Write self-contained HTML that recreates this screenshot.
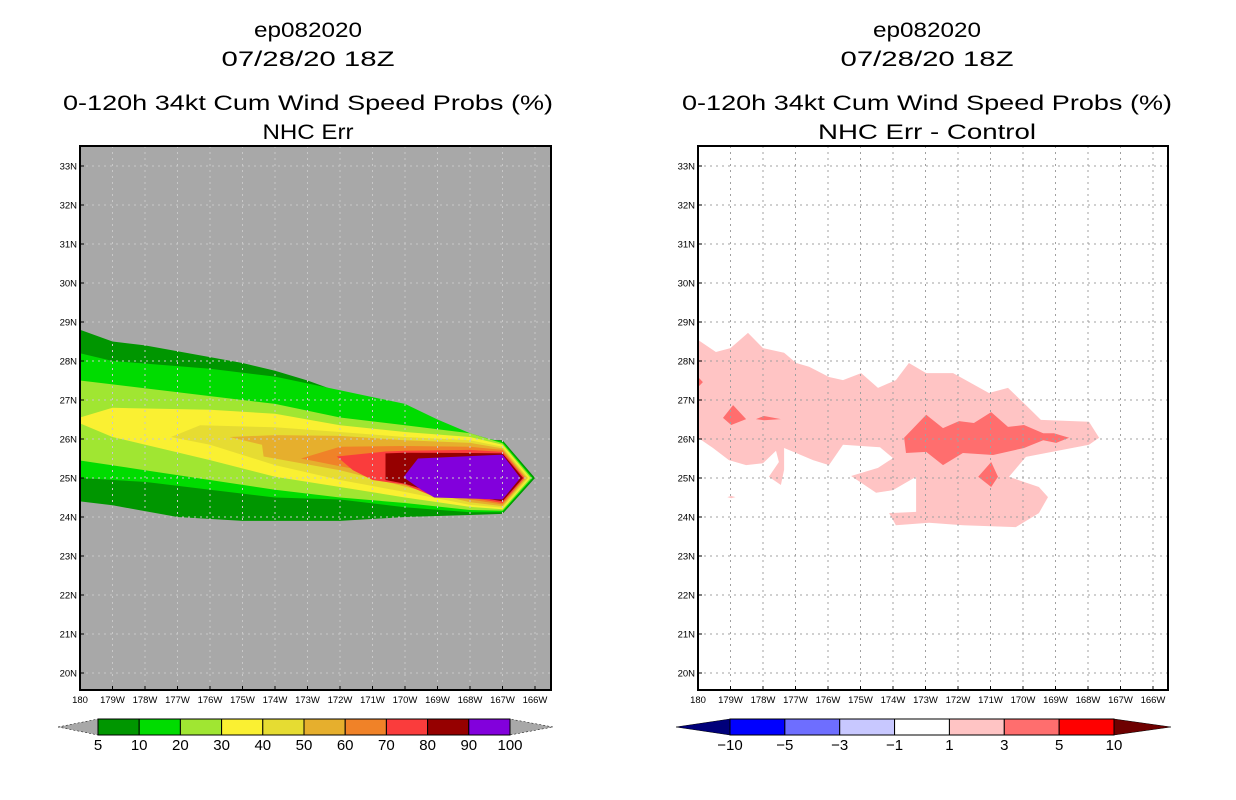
<!DOCTYPE html>
<html><head><meta charset="utf-8"><style>
body{margin:0;background:#fff}
svg{display:block;font-family:"Liberation Sans",sans-serif}
.t{font-size:21px;text-anchor:middle;fill:#000}
.tk{font-size:9.5px;fill:#000}
.cb{font-size:15px;text-anchor:middle;fill:#000}
</style></head><body>
<svg id="s" width="1236" height="800" viewBox="0 0 1236 800">
<defs>
<clipPath id="cl"><rect x="80" y="146" width="471" height="544"/></clipPath>
<clipPath id="cr"><rect x="698" y="146" width="470" height="544"/></clipPath>
</defs>
<g>
<text class="t" x="308" y="37" textLength="108" lengthAdjust="spacingAndGlyphs">ep082020</text>
<text class="t" x="308" y="66" textLength="173" lengthAdjust="spacingAndGlyphs">07/28/20 18Z</text>
<text class="t" x="308" y="110" textLength="490" lengthAdjust="spacingAndGlyphs">0-120h 34kt Cum Wind Speed Probs (%)</text>
<text class="t" x="308" y="139" textLength="91" lengthAdjust="spacingAndGlyphs">NHC Err</text>
</g>
<g>
<text class="t" x="927" y="37" textLength="108" lengthAdjust="spacingAndGlyphs">ep082020</text>
<text class="t" x="927" y="66" textLength="173" lengthAdjust="spacingAndGlyphs">07/28/20 18Z</text>
<text class="t" x="927" y="110" textLength="490" lengthAdjust="spacingAndGlyphs">0-120h 34kt Cum Wind Speed Probs (%)</text>
<text class="t" x="927" y="139" textLength="218" lengthAdjust="spacingAndGlyphs">NHC Err - Control</text>
</g>
<g id="L"></g><g id="R"></g>
</svg>
<script>
const latTicks=[20,21,22,23,24,25,26,27,28,29,30,31,32,33];
const lonTicks=[180,179,178,177,176,175,174,173,172,171,170,169,168,167,166];
const probLevels=[5,10,20,30,40,50,60,70,80,90,100];
const probColors=["#009600","#00dc00","#a0e632","#faf032","#e6dc32","#e6af2d","#f08228","#fa3c3c","#960000","#8200dc"];
const diffLevels=[-10,-5,-3,-1,1,3,5,10];
const diffColors=["#00007a","#0000ff","#6e6eff","#c8c8ff","#ffffff","#ffc4c4","#ff6e6e","#ff0000","#6e0000"];
const p5=[[180,28.8],[179,28.5],[178,28.4],[176,28.1],[175,27.95],[174,27.75],[173,27.5],[172,27.2],[171,26.95],[170,26.5],[169.4,26.35],[168.4,26.0],[167,25.97],[166.0,25.0],[167,24.08],[168,24.05],[170,24.0],[172,23.9],[173,23.9],[175,23.9],[177,24.0],[179,24.3],[180,24.4]];
const p10=[[180,28.2],[179,28.0],[176,27.8],[174,27.6],[172,27.25],[170,26.9],[169,26.5],[168,26.15],[167.4,26.0],[167,25.93],[166.06,25.0],[167,24.12],[168,24.12],[170,24.25],[172,24.45],[174,24.5],[176,24.7],[178,24.9],[180,25.0]];
const p20=[[180,27.5],[179,27.4],[176,27.1],[174,26.9],[172,26.55],[170,26.35],[168,26.15],[167,25.89],[166.1,25],[167,24.16],[168,24.18],[170,24.36],[172,24.5],[174,24.7],[176,24.95],[178,25.2],[180,25.45]];
const p30=[[180,26.55],[179,26.8],[176,26.75],[174,26.65],[172,26.35],[170,26.18],[168,26.05],[167,25.85],[166.15,25],[167,24.2],[168,24.26],[170,24.5],[172,24.77],[174,25.03],[176,25.46],[179,26.05],[180,26.4]];
const p40=[[177.2,26.05],[176.3,26.35],[174,26.3],[172,26.18],[170,26.05],[168,25.97],[167,25.8],[166.2,25],[167,24.24],[168,24.31],[170,24.64],[172,24.95],[174,25.33],[176,25.85]];
const p50=[[175.4,26.05],[174,26.1],[172,26.08],[170,25.97],[168,25.9],[167,25.76],[166.25,25],[167,24.28],[168,24.38],[170,24.78],[172,25.2],[174.35,25.55],[174.4,25.85]];
const p60=[[173.2,25.5],[172,25.8],[170,25.82],[168,25.8],[167,25.72],[166.3,25],[167,24.32],[168,24.45],[170,24.9],[171,25.15],[172,25.3]];
const p70=[[172.1,25.55],[170.6,25.68],[170,25.7],[168,25.72],[167,25.67],[166.33,25],[167,24.36],[168,24.5],[169.2,24.55],[170,24.83],[171,24.95],[171.6,25.2]];
const p80=[[170.6,25.63],[170,25.65],[168,25.64],[167,25.63],[166.37,25],[167,24.4],[168,24.55],[169,24.57],[169.5,24.72],[170,24.85],[170.6,24.95]];
const p90=[[170.05,25.02],[169.6,25.5],[167,25.6],[166.45,25],[167,24.45],[169.1,24.5],[169.5,24.7]];
const probPolys=[p5,p10,p20,p30,p40,p50,p60,p70,p80,p90];
const d1=[[180,28.54],[179.45,28.23],[179.0,28.33],[178.46,28.72],[178.0,28.33],[177.35,28.21],[176.98,27.95],[176.58,27.85],[175.97,27.59],[175.54,27.51],[174.98,27.69],[174.46,27.31],[173.91,27.51],[173.51,27.95],[172.98,27.69],[172.15,27.69],[171.05,27.18],[170.46,27.31],[169.91,26.87],[169.45,26.49],[167.97,26.44],[167.66,26.03],[167.97,25.85],[169.91,25.54],[170.43,25.03],[169.51,24.77],[169.23,24.51],[169.51,24.1],[170.22,23.74],[171.85,23.79],[172.89,23.85],[173.91,23.79],[174.12,24.1],[173.29,24.13],[173.29,25.03],[174.0,24.69],[174.52,24.62],[175.29,25.05],[174.46,25.26],[174.0,25.51],[174.4,25.79],[174.98,25.82],[175.54,25.85],[175.97,25.33],[176.46,25.46],[176.98,25.64],[177.35,25.77],[177.35,25.21],[177.45,24.82],[177.82,25.03],[177.51,25.41],[177.6,25.7],[178.0,25.38],[178.52,25.33],[179.05,25.46],[179.54,25.77],[180,26.03]];
const d3a=[[173.66,26.03],[172.98,26.62],[172.46,26.28],[171.97,26.46],[171.51,26.41],[170.98,26.69],[170.46,26.31],[169.97,26.36],[169.38,26.15],[169.05,26.15],[168.58,26.03],[168.98,25.9],[169.38,25.97],[169.97,25.77],[170.92,25.59],[171.85,25.64],[172.46,25.33],[172.98,25.67],[173.6,25.64]];
const d3b=[[179.23,26.54],[178.92,26.87],[178.52,26.51],[178.98,26.36]];
const d3c=[[178.22,26.51],[177.97,26.59],[177.45,26.51],[177.97,26.48]];
const d3d=[[170.98,25.41],[170.77,25.03],[170.98,24.77],[171.38,25.03]];
const d3e=[[180,27.59],[179.85,27.46],[180,27.33]];
const d1b=[[179.1,24.51],[178.98,24.54],[178.85,24.51],[178.98,24.48]];
const diffPolys1=[d1,d1b];
const diffPolys3=[d3a,d3b,d3c,d3d,d3e];

const NS="http://www.w3.org/2000/svg";
function mk(tag,attrs,parent){const e=document.createElementNS(NS,tag);for(const k in attrs)e.setAttribute(k,attrs[k]);parent.appendChild(e);return e;}
function panel(g,x0,w,bg,clip){
  const y0=146,h=544;
  const X=lon=>x0+(180-lon)*32.5;
  const Y=lat=>673-(lat-20)*39;
  const bgR=mk('rect',{x:x0,y:y0,width:w,height:h,fill:bg},g);
  
  
  const cg=mk('g',{'clip-path':'url(#'+clip+')'},g);
  return {X,Y,cg,y0,h};
}
function poly(p,pts,fill,name){
  const e=mk('polygon',{points:pts.map(q=>p.X(q[0]).toFixed(1)+','+p.Y(q[1]).toFixed(1)).join(' '),fill:fill},p.cg);
  
  
}
function axes(g,p,x0,w,gridCol){
  lonTicks.forEach(l=>{const x=p.X(l);
    if(x>x0+1&&x<x0+w-1){const ln=mk('line',{x1:x,x2:x,y1:p.y0,y2:p.y0+p.h,stroke:gridCol,'stroke-width':1,'stroke-dasharray':'2,4'},g);}
    const t=mk('text',{x:x,y:p.y0+p.h+13,'text-anchor':'middle',class:'tk'},g);t.textContent=l===180?'180':l+'W';
    
    const tk=mk('line',{x1:x,x2:x,y1:p.y0+p.h,y2:p.y0+p.h-4,stroke:'#000'},g);});
  latTicks.forEach(l=>{const y=p.Y(l);
    const ln=mk('line',{x1:x0,x2:x0+w,y1:y,y2:y,stroke:gridCol,'stroke-width':1,'stroke-dasharray':'2,4'},g);
    const t=mk('text',{x:x0-3,y:y+3.5,'text-anchor':'end',class:'tk'},g);t.textContent=l+'N';
    
    const tk=mk('line',{x1:x0,x2:x0+4,y1:y,y2:y,stroke:'#000'},g);});
  const fr=mk('rect',{x:x0,y:p.y0,width:w,height:p.h,fill:'none',stroke:'#000','stroke-width':2},g);
  
}
function colorbar(g,x1,x2,tl,tr,levels,inner,name){
  const y=719,h=16;
  const bw=(x2-x1)/inner.length;
  const cg=mk('g',{},g);
  const lt=mk('polygon',{points:`${tl[0]},${y+h/2} ${x1},${y} ${x1},${y+h}`,fill:tl[1],stroke:'#000','stroke-width':0.5,'stroke-dasharray':tl[2]||''},cg);
  
  const rt=mk('polygon',{points:`${tr[0]},${y+h/2} ${x2},${y} ${x2},${y+h}`,fill:tr[1],stroke:'#000','stroke-width':0.5,'stroke-dasharray':tr[2]||''},cg);
  
  inner.forEach((c,i)=>{const r=mk('rect',{x:x1+i*bw,y:y,width:bw,height:h,fill:c,stroke:'#000','stroke-width':1},cg);
    });
  levels.forEach((v,i)=>{const t=mk('text',{x:x1+i*bw,y:y+h+15,class:'cb'},cg);t.textContent=v<0?'\u2212'+(-v):v;
    });
}
const L=document.getElementById('L'),R=document.getElementById('R');
const pl=panel(L,80,471,'#a8a8a8','cl');
probPolys.forEach((pp,i)=>poly(pl,pp,probColors[i],'prob-contour-'+probLevels[i]));
axes(L,pl,80,471,'#c8c8c8');
colorbar(L,98,510,[58,'#a8a8a8','2,2'],[553,'#a8a8a8','2,2'],probLevels,probColors,'left-colorbar');
const pr=panel(R,698,470,'#ffffff','cr');
diffPolys1.forEach(pp=>poly(pr,pp,diffColors[5],'diff-contour-1'));
diffPolys3.forEach(pp=>poly(pr,pp,diffColors[6],'diff-contour-3'));
axes(R,pr,698,470,'#a0a0a0');
colorbar(R,730,1114,[676,diffColors[0]],[1171,diffColors[8]],diffLevels,diffColors.slice(1,8),'right-colorbar');
</script>
</body></html>
